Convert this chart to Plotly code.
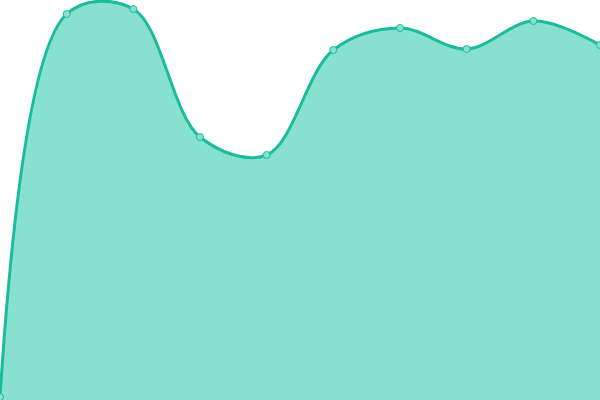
import plotly.graph_objects as go

# readings (plot area spans 0..400)
labels = list(range(10))
values = [3, 386, 391, 263, 245, 350, 372, 351, 379, 355]

line_col = "#1abc9c"
fill_col = "#88e0cf"

fig = go.Figure()
fig.add_trace(go.Scatter(
    x=labels,
    y=values,
    mode="lines+markers",
    line=dict(color=line_col, width=3, shape="spline", smoothing=1),
    marker=dict(size=7, color=fill_col, line=dict(color=line_col, width=1)),
    fill="tozeroy",
    fillcolor=fill_col,
    hoverinfo="skip",
))

fig.update_layout(
    width=600,
    height=400,
    margin=dict(l=0, r=0, t=0, b=0),
    paper_bgcolor="white",
    plot_bgcolor="white",
    showlegend=False,
    xaxis=dict(visible=False, range=[0, 9]),
    yaxis=dict(visible=False, range=[0, 400]),
)

# drop the page's default body margin so the chart sits flush in the window
fig.write_html("out.html", config={"displayModeBar": False},
               post_script="document.body.style.margin='0px';")
